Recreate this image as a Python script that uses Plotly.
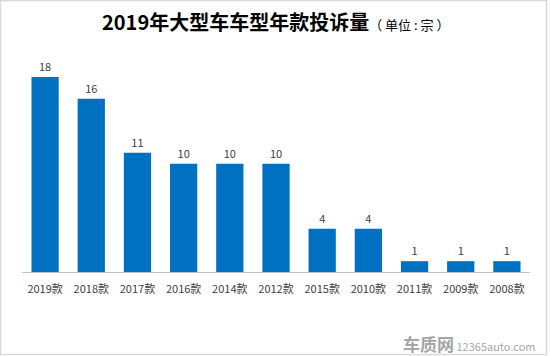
import plotly.graph_objects as go

categories = ["2019款", "2018款", "2017款", "2016款", "2014款", "2012款", "2015款", "2010款", "2011款", "2009款", "2008款"]
values = [18, 16, 11, 10, 10, 10, 4, 4, 1, 1, 1]

L, R, T, B = 22, 20, 60, 84
W, H = 550, 356
pw, ph = W - L - R, H - T - B

def px(x):
    return (x - L) / pw

def py(y):
    return (H - B - y) / ph

fig = go.Figure(go.Bar(
    x=categories, y=values,
    marker=dict(color="#0070C0", line=dict(width=0)),
    text=values, textposition="outside",
    textfont=dict(size=11, color="#404040", family="Noto Sans CJK SC"),
    cliponaxis=False,
    hoverinfo="skip",
))

fig.update_layout(
    width=W, height=H,
    margin=dict(l=L, r=R, t=T, b=B),
    paper_bgcolor="white", plot_bgcolor="white",
    bargap=0.41,
    showlegend=False,
    font=dict(family="Noto Sans CJK SC", color="#404040"),
    xaxis=dict(showline=True, linecolor="#BFBFBF", linewidth=1, ticks="",
               tickfont=dict(size=11, color="#404040"), showgrid=False,
               ticklabelstandoff=7),
    yaxis=dict(range=[0, 19.57], visible=False, showgrid=False),
    annotations=[
        dict(xref="paper", yref="paper", x=px(275), y=py(22), xanchor="center", yanchor="middle",
             showarrow=False,
             text="<b>2019年大型车车型年款投诉量</b><span style='font-size:13px'>（ 单位 : 宗 ）</span>",
             font=dict(size=20, color="#000000", family="Noto Sans CJK SC")),
        dict(xref="paper", yref="paper", x=px(538), y=py(343), xanchor="right", yanchor="middle",
             showarrow=False,
             text="<b><span style='font-size:17px'>车质网</span></b> 12365auto.com",
             font=dict(size=11, color="#A6A6A6", family="Noto Sans CJK SC")),
    ],
    shapes=[
        dict(type="rect", xref="paper", yref="paper",
             x0=px(0.5), x1=px(546.5), y0=py(354.5), y1=py(0.5),
             line=dict(color="#D9D9D9", width=1.5), fillcolor="rgba(0,0,0,0)", layer="below"),
    ],
)

fig.write_html("out.html", config={"displayModeBar": False, "staticPlot": True},
               post_script="document.body.style.margin='0';document.body.style.overflow='hidden';")
